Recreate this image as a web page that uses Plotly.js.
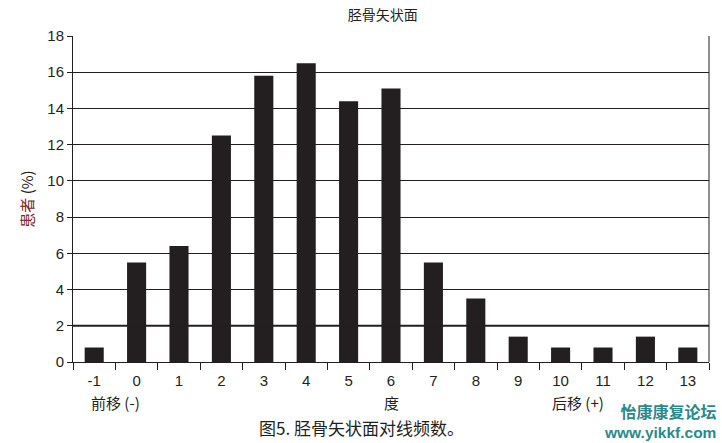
<!DOCTYPE html>
<html><head><meta charset="utf-8">
<script src="https://cdn.plot.ly/plotly-3.0.1.min.js"></script>
<style>body{margin:0;background:#fff}#c{width:722px;height:443px}</style>
</head><body><div id="c"></div>
<script>
const categories = ['-1','0','1','2','3','4','5','6','7','8','9','10','11','12','13'];
const patients = [0.8,5.5,6.4,12.5,15.8,16.5,14.4,15.1,5.5,3.5,1.4,0.8,0.8,1.4,0.8];
const yTicks = [0,2,4,6,8,10,12,14,16,18];

const sans = 'Liberation Sans, Arial, sans-serif';
const cjk = 'Noto Sans CJK SC, sans-serif';

const trace = {
  type:'bar', x:categories, y:patients,
  marker:{color:'#231f20', line:{width:0}},
  hoverinfo:'skip'
};

const layout = {
  width:722, height:443,
  margin:{l:73, r:13, t:36, b:81},
  paper_bgcolor:'#fff', plot_bgcolor:'#fff',
  bargap:0.55,
  showlegend:false,
  title:{text:'胫骨矢状面', font:{family:cjk, size:14, color:'#231f20'}, x:0.53, xanchor:'center', y:0.965, yanchor:'middle'},
  xaxis:{
    type:'category', tickson:'boundaries', ticks:'outside', ticklen:7, tickcolor:'#231f20', tickwidth:1,
    showline:true, linecolor:'#231f20', linewidth:1, mirror:false,
    showgrid:false, zeroline:false, ticklabelstandoff:5,
    tickfont:{family:sans, size:15, color:'#231f20'}
  },
  yaxis:{
    range:[0,18], tickvals:yTicks, ticks:'outside', ticklen:5, tickcolor:'#231f20',
    showline:true, linecolor:'#231f20', linewidth:1,
    showgrid:true, gridcolor:'#231f20', gridwidth:1, zeroline:false,
    tickfont:{family:sans, size:15, color:'#231f20'},
    title:{text:'<span style="color:#7a2222">患者</span> (%)', font:{family:cjk, size:15, color:'#231f20'}, standoff:10}
  },
  shapes:[
    {type:'line', xref:'paper', yref:'paper', x0:1, x1:1, y0:0, y1:1, line:{color:'#231f20', width:1}},
    {type:'line', xref:'paper', yref:'y', x0:0, x1:1, y0:2, y1:2, line:{color:'#231f20', width:2}}
  ],
  annotations:[
    {text:'前移 (-)', xref:'x', yref:'paper', x:0.5, y:-0.125, yanchor:'middle', xanchor:'center', showarrow:false, font:{family:cjk, size:15, color:'#231f20'}},
    {text:'度', xref:'x', yref:'paper', x:7, y:-0.125, yanchor:'middle', xanchor:'center', showarrow:false, font:{family:cjk, size:15, color:'#231f20'}},
    {text:'后移 (+)', xref:'x', yref:'paper', x:11.4, y:-0.125, yanchor:'middle', xanchor:'center', showarrow:false, font:{family:cjk, size:15, color:'#231f20'}},
    {text:'图5. 胫骨矢状面对线频数。', xref:'paper', yref:'paper', x:0.29, y:-0.202, xanchor:'left', yanchor:'middle', showarrow:false, font:{family:'Noto Sans CJK SC, serif', size:17, color:'#231f20'}},
    {text:'<b><span style="font-size:16px">怡康康复论坛</span></b><br><b><span style="font-family:Liberation Sans, Arial, sans-serif;font-size:15.5px">www.yikkf.com</span></b>', xref:'paper', yref:'paper', x:1.014, y:-0.178, xanchor:'right', yanchor:'middle', align:'right', showarrow:false, font:{family:cjk, size:15, color:'#2b8a8c'}}
  ]
};

Plotly.newPlot('c',[trace],layout,{displayModeBar:false, staticPlot:true});
</script></body></html>
